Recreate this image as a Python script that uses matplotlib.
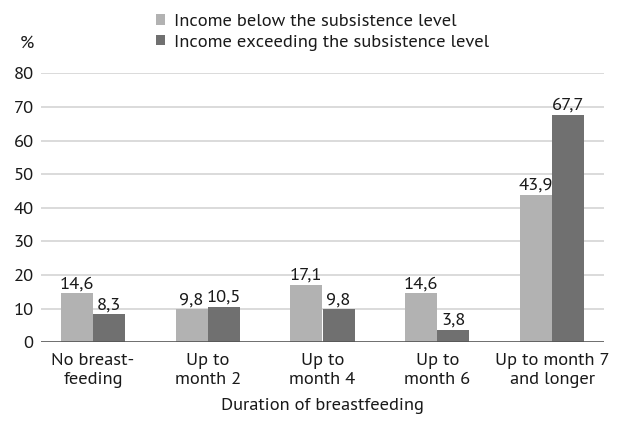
import matplotlib
matplotlib.use("Agg")
import matplotlib.pyplot as plt
import numpy as np

categories = ["No breast-\nfeeding", "Up to\nmonth 2", "Up to\nmonth 4", "Up to\nmonth 6", "Up to month 7\nand longer"]
series_names = ["Income below the subsistence level", "Income exceeding the subsistence level"]
below = [14.6, 9.8, 17.1, 14.6, 43.9]
exceeding = [8.3, 10.5, 9.8, 3.8, 67.7]
yticks = [0, 10, 20, 30, 40, 50, 60, 70, 80]

plt.rcParams['font.family'] = ['PT Sans', 'DejaVu Sans']

fig = plt.figure(figsize=(6.18, 4.22), dpi=100)
W, H = 618, 422
left, right = 35.6, 609.4
bottom, top = 342.3, 73.3
ax = fig.add_axes([left / W, 1 - bottom / H, (right - left) / W, (bottom - top) / H])

c_light = "#b2b2b2"
c_dark = "#707070"
x = np.arange(len(categories))
bw = 0.28
b1 = ax.bar(x - bw / 2, below, bw, color=c_light, label=series_names[0], zorder=3)
b2 = ax.bar(x + bw / 2, exceeding, bw, color=c_dark, label=series_names[1], zorder=3)

fs = 13.3
tc = "#1a1a1a"
for bars, vals in ((b1, below), (b2, exceeding)):
    for r, v in zip(bars, vals):
        ax.text(r.get_x() + r.get_width() / 2, v + 0.3, f"{v:.1f}".replace(".", ","),
                ha="center", va="bottom", fontsize=fs, color=tc)

ax.set_xlim(-0.5, len(categories) - 0.5)
ax.set_ylim(0, 80)
for t in yticks[1:]:
    ax.hlines(t, -0.453, len(categories) - 1 + 0.453, color="#d4d4d4", lw=1.2, zorder=1)
ax.hlines(0, -0.453, len(categories) - 1 + 0.453, color="#555555", lw=1.2, zorder=4)

for s in ax.spines.values():
    s.set_visible(False)
ax.set_yticks(yticks)
ax.set_yticklabels([str(t) for t in yticks], fontsize=fs, color=tc)
ax.tick_params(axis="y", length=0, pad=1.5)
ax.set_xticks(x)
ax.set_xticklabels(categories, fontsize=fs, color=tc, linespacing=1.2)
ax.tick_params(axis="x", length=0, pad=8)
ax.set_xlabel("Duration of breastfeeding", fontsize=fs, color=tc, labelpad=7)

fig.text(27 / W, 1 - 44 / H, "%", fontsize=fs, ha="center", va="center", color=tc)

leg = fig.legend(handles=[b1, b2], labels=series_names, loc="upper left",
                 bbox_to_anchor=(156 / W, 1 - 14 / H), frameon=False, fontsize=fs,
                 borderaxespad=0, borderpad=0,
                 handlelength=0.5, handleheight=0.5, handletextpad=0.45, labelspacing=0.25)
for t in leg.get_texts():
    t.set_color(tc)

fig.savefig("out.png", dpi=100)
